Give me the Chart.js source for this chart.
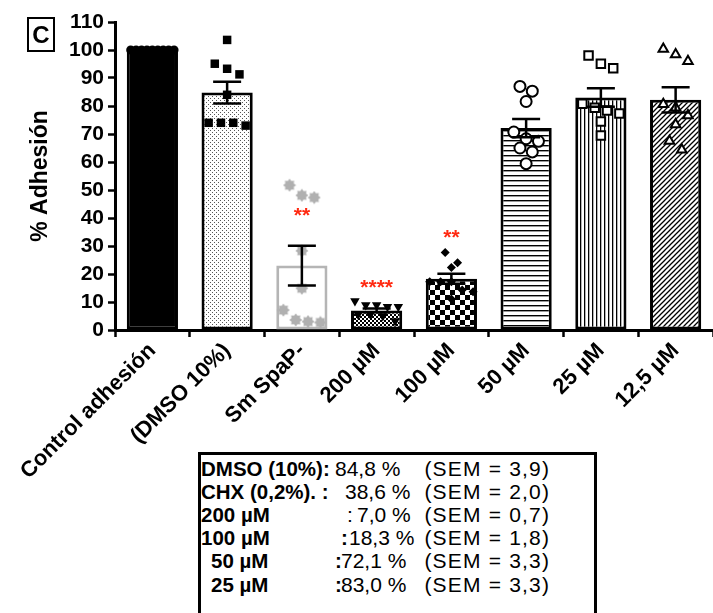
<!DOCTYPE html>
<html lang="es">
<head>
<meta charset="UTF-8">
<title>% Adhesión</title>
<style>
  html, body { margin: 0; padding: 0; background: #fff; width: 713px; height: 613px; overflow: hidden; }
  #wrap { position: absolute; left: 0; top: 0; width: 722px; height: 480px; }
  #panel { position: absolute; left: 27px; top: 17px; width: 24px; height: 31px; border: 2px solid #000;
           font: bold 24px "Liberation Sans", Arial, sans-serif; text-align: center; line-height: 31px; }
  #stats { position: absolute; left: 198px; top: 452px; width: 393px; height: 200px; border: 3px solid #000; background: #fff; }
  #stats span { position: absolute; white-space: pre; font-family: "Liberation Sans", Arial, sans-serif;
                font-size: 21px; line-height: 23px; color: #000; }
  #stats .b { font-weight: bold; font-size: 20.5px; }
</style>
</head>
<body>
<div id="wrap"><canvas id="myChart"></canvas></div>
<div id="panel">C</div>
<div id="stats"></div>

<script src="https://cdn.jsdelivr.net/npm/chart.js@4.4.1/dist/chart.umd.min.js"></script>
<script>
    // bars
    const categories = ['Control adhesión', '(DMSO 10%)', 'Sm SpaP-', '200 µM', '100 µM', '50 µM', '25 µM', '12,5 µM']
    const means = [100, 84.8, 23.0, 7.0, 18.3, 72.1, 83.0, 82.2]
    const sems = [0, 3.9, 7.1, 0.7, 1.8, 3.3, 3.3, 4.5]

    // individual replicates
    const ctrlPts = [100, 100, 100, 100, 100, 100, 100, 100, 100]
    const dmsoPts = [103.6, 95.1, 93.3, 91.3, 84.0, 74.0, 73.0, 74.0, 74.0]
    const spapPts = [51.7, 47.3, 48.1, 28.3, 14.9, 7.1, 3.6, 2.7, 3.0]
    const p200Pts = [10.4, 8.9, 8.9, 8.3, 8.3, 5.5, 5.0, 5.5, 3.2]
    const p100Pts = [27.7, 22.3, 24.0, 17.2, 17.2, 17.2, 13.7, 11.1, 14.3]
    const p50Pts = [85.3, 87.0, 81.6, 70.7, 67.4, 68.3, 65.0, 63.6, 59.4]
    const p25Pts = [95.1, 93.5, 98.0, 77.3, 79.4, 80.8, 78.4, 74.5, 69.5]
    const p12Pts = [98.4, 96.0, 100.4, 79.4, 76.6, 80.6, 73.4, 67.5, 64.4]

    // significance marks and the value they sit at
    const sigMarks = ['', '', '**', '****', '**', '', '', '']
    const sigLevel = [null, null, 43, 17, 35, null, null, null]

    // summary box
    const tableLabels = ['DMSO (10%):', 'CHX (0,2%). :', '200 µM', '100 µM', '50 µM', '25 µM']
    const tableMeans = [84.8, 38.6, 7.0, 18.3, 72.1, 83.0]
    const tableSems = [3.9, 2.0, 0.7, 1.8, 3.3, 3.3]

    const FONT = '"Liberation Sans", Arial, sans-serif'

    function fmt(v) { return v.toFixed(1).replace('.', ',') }

    // ---- summary box text ----
    const rowLayout = [
        { lx: 201, cx: null, vx: 335 },
        { lx: 201, cx: null, vx: 345 },
        { lx: 201, cx: 347, cb: false, vx: 357 },
        { lx: 201, cx: 341, cb: true, vx: 349 },
        { lx: 211, cx: 335, cb: true, vx: 341 },
        { lx: 211, cx: 335, cb: true, vx: 341 }
    ]
    const stats = document.getElementById('stats')
    const boxLeft = 201, boxTop = 455
    function addSpan(text, x, y, cls, right, ls) {
        const s = document.createElement('span')
        s.textContent = text
        if (cls) s.className = cls
        s.style.top = (y - boxTop - 11.5) + 'px'
        if (ls) s.style.letterSpacing = ls + 'px'
        if (right) s.style.right = (594 - x - (ls || 0)) + 'px'
        else s.style.left = (x - boxLeft) + 'px'
        stats.appendChild(s)
    }
    tableLabels.forEach((lab, i) => {
        const r = rowLayout[i]
        const y = 468 + i * 23.2
        addSpan(lab, r.lx, y, 'b')
        if (r.cx !== null) addSpan(':', r.cx, y, r.cb ? 'b' : '')
        addSpan(fmt(tableMeans[i]) + ' %', r.vx, y, '')
        addSpan('(SEM = ' + fmt(tableSems[i]) + ')', 549, y, '', true, 1.2)
    })

    // ---- fill patterns ----
    function makePattern(w, h, draw) {
        const c = document.createElement('canvas')
        c.width = w; c.height = h
        const g = c.getContext('2d')
        g.fillStyle = '#fff'
        g.fillRect(0, 0, w, h)
        g.fillStyle = '#000'
        g.strokeStyle = '#000'
        draw(g)
        return g.createPattern(c, 'repeat')
    }
    const stipple = makePattern(4, 4, g => {
        g.fillStyle = '#555'
        g.fillRect(0, 0, 1, 1)
        g.fillRect(2, 2, 1, 1)
    })
    const fineChecker = makePattern(4, 4, g => {
        g.fillRect(0, 0, 2, 2)
        g.fillRect(2, 2, 2, 2)
    })
    const checker = makePattern(10, 10, g => {
        g.fillRect(0, 0, 5, 5)
        g.fillRect(5, 5, 5, 5)
    })
    const hLines = makePattern(4, 5, g => { g.fillRect(0, 0, 4, 1.4) })
    const vLines = makePattern(4, 4, g => { g.fillRect(0, 0, 1.3, 4) })
    const diag = makePattern(5, 5, g => {
        g.lineWidth = 1.3
        g.beginPath()
        g.moveTo(-1, 6); g.lineTo(6, -1)
        g.moveTo(-1, 1); g.lineTo(1, -1)
        g.moveTo(4, 6); g.lineTo(6, 4)
        g.stroke()
    })

    // gray "gear" marker
    const gear = (function () {
        const c = document.createElement('canvas')
        c.width = 14; c.height = 14
        const g = c.getContext('2d')
        g.fillStyle = '#b0b0b0'
        g.beginPath()
        for (let k = 0; k < 16; k++) {
            const a = k * Math.PI / 8
            const r = k % 2 === 0 ? 6.5 : 4.6
            const px = 7 + r * Math.cos(a), py = 7 + r * Math.sin(a)
            if (k === 0) g.moveTo(px, py); else g.lineTo(px, py)
        }
        g.closePath()
        g.fill()
        return c
    })()

    // spread points that would overlap (simple bee-swarm rows, kept inside the bar width)
    function swarm(vals, idx) {
        const sorted = vals.map((v, k) => ({ v, k })).sort((a, b) => b.v - a.v)
        const out = []
        let row = []
        const flush = () => {
            const step = row.length > 1 ? Math.min(0.165, 0.58 / (row.length - 1)) : 0
            row.forEach((p, j) => {
                out.push({ x: idx + (j - (row.length - 1) / 2) * step, y: p.v })
            })
            row = []
        }
        sorted.forEach(p => {
            if (row.length && Math.abs(row[0].v - p.v) > 4.5) flush()
            row.push(p)
        })
        flush()
        return out
    }

    function pts(vals, idx, style) {
        return Object.assign({
            type: 'scatter',
            data: swarm(vals, idx),
            order: 0,
            pointBorderWidth: 2,
            pointBorderColor: '#000',
            pointBackgroundColor: '#000'
        }, style)
    }

    // ---- error bars + significance stars ----
    const extras = {
        id: 'extras',
        afterDatasetsDraw(chart) {
            const ctx = chart.ctx
            const xs = chart.scales.x, ys = chart.scales.y
            ctx.save()
            ctx.strokeStyle = '#000'
            ctx.lineWidth = 2.5
            means.forEach((m, i) => {
                if (!sems[i]) return
                const x = xs.getPixelForValue(i)
                const top = ys.getPixelForValue(m + sems[i])
                const bot = ys.getPixelForValue(m - sems[i])
                ctx.beginPath()
                ctx.moveTo(x, top); ctx.lineTo(x, bot)
                ctx.moveTo(x - 14, top); ctx.lineTo(x + 14, top)
                ctx.moveTo(x - 14, bot); ctx.lineTo(x + 14, bot)
                ctx.stroke()
            })
            ctx.fillStyle = '#ff2a12'
            ctx.font = 'bold 21px ' + FONT
            ctx.textAlign = 'center'
            ctx.textBaseline = 'alphabetic'
            sigMarks.forEach((s, i) => {
                if (!s) return
                ctx.fillText(s, xs.getPixelForValue(i), ys.getPixelForValue(sigLevel[i]) + 12)
            })
            ctx.restore()
        }
    }

    const ctx = document.getElementById('myChart')

    new Chart(ctx, {
        type: 'bar',
        data: {
            datasets: [
                {
                    type: 'bar',
                    data: means.map((m, i) => ({ x: i, y: m })),
                    order: 1,
                    grouped: false,
                    backgroundColor: ['#000', stipple, '#fff', fineChecker, checker, hLines, vLines, diag],
                    borderColor: ['#000', '#000', '#b5b5b5', '#000', '#000', '#000', '#000', '#000'],
                    borderWidth: 3,
                    borderSkipped: false,
                    categoryPercentage: 1,
                    barPercentage: 0.685
                },
                pts(ctrlPts, 0, { pointStyle: 'circle', pointRadius: 4.5, pointBorderWidth: 0 }),
                pts(dmsoPts, 1, { pointStyle: 'rect', pointRadius: 6, pointBorderWidth: 0 }),
                pts(spapPts, 2, { pointStyle: gear, pointRadius: 7 }),
                pts(p200Pts, 3, { pointStyle: 'triangle', rotation: 180, pointRadius: 5.5, pointBorderWidth: 0 }),
                pts(p100Pts, 4, { pointStyle: 'rectRot', pointRadius: 4.5, pointBorderWidth: 0 }),
                pts(p50Pts, 5, { pointStyle: 'circle', pointRadius: 5.5, pointBackgroundColor: '#fff' }),
                pts(p25Pts, 6, { pointStyle: 'rect', pointRadius: 6, pointBackgroundColor: '#fff' }),
                pts(p12Pts, 7, { pointStyle: 'triangle', pointRadius: 5.5, pointBackgroundColor: '#fff' })
            ]
        },
        options: {
            responsive: true,
            maintainAspectRatio: false,
            animation: false,
            layout: { padding: { top: 22, left: 0, right: 0, bottom: 0 } },
            plugins: {
                legend: { display: false },
                tooltip: { enabled: false }
            },
            scales: {
                x: {
                    type: 'linear',
                    min: -0.5, max: 7.5,
                    bounds: 'data',
                    offset: false,
                    afterDataLimits: s => { s.min = -0.5; s.max = 7.5 },
                    afterBuildTicks: s => { s.ticks = categories.map((c, i) => ({ value: i })) },
                    ticks: {
                        callback: v => categories[v],
                        color: '#000',
                        font: { family: FONT, size: 22, weight: 'bold' },
                        minRotation: 45, maxRotation: 45,
                        autoSkip: false,
                        padding: 1
                    },
                    grid: { drawOnChartArea: false, tickLength: 7, tickWidth: 2.5, tickColor: '#000' },
                    border: { color: '#000', width: 3 },
                    afterFit: s => { s.height = 150; s.paddingLeft = 0; s.paddingRight = 0 }
                },
                y: {
                    min: 0, max: 110,
                    ticks: {
                        stepSize: 10,
                        autoSkip: false,
                        color: '#000',
                        font: { family: FONT, size: 21, weight: 'bold' },
                        padding: 4
                    },
                    grid: { drawOnChartArea: false, tickLength: 7, tickWidth: 2.5, tickColor: '#000' },
                    border: { color: '#000', width: 3 },
                    title: {
                        display: true,
                        text: '% Adhesión',
                        color: '#000',
                        font: { family: FONT, size: 23, weight: 'bold' },
                        padding: { top: 27, bottom: 0 }
                    },
                    afterFit: s => { s.width = 115 }
                }
            }
        },
        plugins: [extras]
    })
</script>
</body>
</html>
